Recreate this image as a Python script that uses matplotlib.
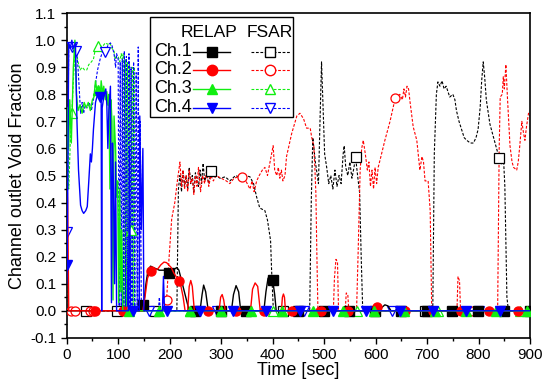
import numpy as np
import matplotlib
matplotlib.use('Agg')
import matplotlib.pyplot as plt
from matplotlib.lines import Line2D
from matplotlib.patches import Rectangle

plt.rcParams['font.family'] = ['Liberation Sans', 'DejaVu Sans']

# ---- data (time [s], void fraction) ----
relap_ch1 = np.array([
    (0, 0), (146, 0), (150, 0.03), (154, 0.10), (158, 0.15), (163, 0.165), (168, 0.16),
    (174, 0.155), (180, 0.15), (186, 0.15), (192, 0.15), (199, 0.14), (205, 0.145),
    (210, 0.155), (214, 0.16), (218, 0.15), (222, 0.12), (226, 0.09), (230, 0.06),
    (234, 0.03), (238, 0), (259, 0), (263, 0.06), (266, 0.095), (270, 0.07), (275, 0),
    (320, 0), (324, 0.06), (329, 0.093), (334, 0.07), (338, 0), (383, 0), (387, 0.07),
    (391, 0.12), (395, 0.13), (400, 0.115), (404, 0.06), (407, 0), (606, 0), (612, 0.012),
    (618, 0.022), (624, 0.018), (630, 0), (900, 0)])
relap_ch2 = np.array([
    (0, 0.52), (2, 0.40), (4, 0), (148, 0), (152, 0.05), (157, 0.12), (162, 0.145),
    (170, 0.15), (177, 0.155), (183, 0.17), (189, 0.18), (194, 0.178), (198, 0.17),
    (203, 0.16), (208, 0.14), (213, 0.125), (218, 0.115), (222, 0.09), (226, 0.053),
    (230, 0), (235, 0), (238, 0.09), (241, 0.112), (244, 0.09), (248, 0), (296, 0),
    (299, 0.05), (302, 0.06), (305, 0.04), (308, 0), (357, 0), (361, 0.08), (366, 0.103),
    (371, 0.09), (376, 0), (417, 0), (419, 0.05), (421, 0.062), (423, 0.05), (425, 0),
    (595, 0), (600, 0.012), (604, 0.016), (608, 0.01), (612, 0), (900, 0)])
relap_ch3 = np.array([
    (0, 0.28), (2, 0.75), (4, 0.60), (6, 0.78), (9, 0.62), (13, 0.90), (16, 1.0),
    (19, 0.80), (22, 0.74), (26, 0.76), (30, 0.73), (34, 0.77), (38, 0.75), (42, 0.77),
    (46, 0.74), (50, 0.78), (53, 0.79), (56, 0.85), (59, 0.81), (62, 0.82), (65, 0.78),
    (67, 0.85), (70, 0.80), (72, 0.83), (75, 0.78), (78, 0.81), (80, 0.76), (82, 0.80),
    (84, 0.45), (86, 0.78), (88, 0.70), (90, 0.04), (92, 0.72), (95, 0.60), (97, 0.42),
    (99, 0.48), (101, 0.03), (103, 0.45), (105, 0.07), (107, 0.30), (109, 0), (900, 0)])
relap_ch4 = np.array([
    (0, 0.10), (1, 0.17), (4, 0.99), (7, 0.97), (10, 1.0), (13, 0.97), (17, 0.99),
    (20, 0.70), (23, 0.52), (27, 0.39), (30, 0.37), (33, 0.36), (37, 0.37), (40, 0.385),
    (43, 0.48), (46, 0.58), (48, 0.55), (50, 0.60), (52, 0.67), (56, 0.77), (60, 0.80),
    (65, 0.79), (67, 0.78), (68, 0), (69, 0.75), (72, 0.79), (76, 0.82), (78, 0.76),
    (80, 0.60), (82, 0.74), (85, 0.83), (87, 0.03), (89, 0.62), (91, 0.45), (93, 0.10),
    (95, 0.55), (97, 0), (120, 0), (122, 0.60), (124, 0), (141, 0), (142, 0.72),
    (145, 0.30), (148, 0.60), (150, 0), (186, 0), (188, 0.127), (190, 0), (900, 0)])

fsar_ch1 = np.array([
    (0, 0), (214, 0), (217, 0.45), (220, 0.50), (223, 0.44), (226, 0.52), (229, 0.46),
    (232, 0.50), (235, 0.45), (238, 0.53), (241, 0.47), (244, 0.50), (247, 0.44),
    (250, 0.51), (253, 0.48), (256, 0.46), (259, 0.52), (262, 0.47), (265, 0.545),
    (268, 0.48), (272, 0.50), (276, 0.47), (281, 0.517), (288, 0.50), (298, 0.49),
    (308, 0.495), (317, 0.48), (328, 0.50), (340, 0.49), (348, 0.50), (356, 0.495),
    (363, 0.47), (369, 0.42), (375, 0.38), (385, 0.37), (390, 0.335), (396, 0.26),
    (398, 0.15), (401, 0.02), (403, 0), (472, 0), (475, 0.40), (478, 0.64), (483, 0.55),
    (489, 0.47), (492, 0.70), (495, 0.92), (498, 0.75), (501, 0.58), (505, 0.53),
    (509, 0.47), (513, 0.50), (517, 0.45), (521, 0.52), (525, 0.46), (529, 0.50),
    (533, 0.47), (537, 0.58), (539, 0.61), (542, 0.53), (546, 0.50), (550, 0.55),
    (554, 0.49), (558, 0.53), (561, 0.57), (565, 0.50), (569, 0.435), (572, 0.20),
    (575, 0), (711, 0), (714, 0.58), (718, 0.80), (721, 0.846), (725, 0.83), (729, 0.85),
    (733, 0.82), (737, 0.83), (744, 0.79), (750, 0.80), (754, 0.78), (757, 0.74),
    (762, 0.70), (767, 0.67), (772, 0.64), (777, 0.63), (784, 0.62), (790, 0.62),
    (795, 0.64), (799, 0.67), (803, 0.75), (806, 0.85), (809, 0.92), (812, 0.86),
    (815, 0.78), (822, 0.69), (832, 0.62), (840, 0.565), (845, 0.54), (848, 0.58),
    (851, 0.46), (855, 0.05), (858, 0), (900, 0)])
fsar_ch2 = np.array([
    (0, 0), (188, 0), (194, 0.04), (199, 0.20), (204, 0.34), (210, 0.40), (215, 0.48),
    (220, 0.55), (223, 0.46), (226, 0.52), (229, 0.45), (232, 0.50), (235, 0.44),
    (238, 0.52), (241, 0.47), (244, 0.49), (247, 0.43), (250, 0.50), (253, 0.46),
    (256, 0.53), (260, 0.44), (264, 0.50), (268, 0.47), (272, 0.52), (276, 0.46),
    (280, 0.50), (285, 0.48), (290, 0.50), (300, 0.49), (310, 0.48), (317, 0.47),
    (325, 0.49), (333, 0.495), (340, 0.495), (348, 0.48), (356, 0.45), (360, 0.48),
    (364, 0.44), (369, 0.48), (374, 0.50), (380, 0.52), (385, 0.53), (390, 0.50),
    (396, 0.56), (401, 0.61), (404, 0.52), (408, 0.50), (411, 0.53), (414, 0.49),
    (417, 0.52), (420, 0.48), (424, 0.50), (427, 0.57), (437, 0.655), (447, 0.72),
    (453, 0.73), (460, 0.71), (466, 0.675), (473, 0.675), (476, 0.64), (480, 0.61),
    (482, 0.53), (484, 0.435), (486, 0.20), (488, 0), (518, 0), (520, 0.12), (523, 0.19),
    (526, 0.18), (528, 0), (541, 0), (543, 0.066), (546, 0.06), (548, 0), (563, 0),
    (566, 0.21), (570, 0.52), (573, 0.60), (576, 0.63), (580, 0.58), (584, 0.52),
    (587, 0.55), (590, 0.46), (593, 0.52), (596, 0.45), (599, 0.53), (602, 0.47),
    (605, 0.53), (609, 0.56), (618, 0.63), (628, 0.70), (638, 0.785), (647, 0.80),
    (652, 0.78), (655, 0.82), (658, 0.79), (661, 0.83), (664, 0.82), (667, 0.77),
    (673, 0.68), (680, 0.63), (686, 0.52), (690, 0.57), (693, 0.55), (696, 0.48),
    (702, 0.48), (706, 0.37), (709, 0), (758, 0), (760, 0.127), (763, 0.11), (765, 0),
    (837, 0), (840, 0.60), (842, 0.79), (846, 0.80), (848, 0.865), (850, 0.82),
    (853, 0.91), (856, 0.79), (861, 0.61), (865, 0.55), (868, 0.53), (874, 0.52),
    (877, 0.55), (880, 0.61), (884, 0.70), (887, 0.66), (890, 0.63), (893, 0.68),
    (897, 0.73), (900, 0.72)])
fsar_ch3 = np.array([
    (0, 0.20), (2, 0.60), (4, 0.45), (7, 0.62), (10, 0.73), (13, 0.85), (16, 0.95),
    (19, 0.96), (22, 0.92), (26, 0.89), (30, 0.90), (35, 0.89), (39, 0.89), (43, 0.91),
    (48, 0.92), (52, 0.93), (56, 0.97), (60, 0.98), (64, 0.985), (68, 0.975), (71, 0.98),
    (75, 0.99), (80, 0.985), (84, 0.99), (88, 0.97), (92, 0.96), (94, 0.93), (97, 0.94),
    (100, 0.94), (103, 0.92), (106, 0.95), (108, 0.93), (110, 0.95), (112, 0), (114, 0.93),
    (116, 0), (118, 0.92), (120, 0), (122, 0.91), (124, 0), (127, 0.90), (129, 0),
    (131, 0.90), (133, 0), (900, 0)])
fsar_ch4 = np.array([
    (0, 0), (1, 0.29), (4, 0.99), (7, 0.99), (10, 0.975), (19, 0.96), (22, 0.90),
    (25, 0.80), (27, 0.73), (30, 0.77), (33, 0.73), (36, 0.76), (40, 0.75), (44, 0.77),
    (48, 0.74), (52, 0.78), (56, 0.84), (60, 0.89), (65, 0.93), (70, 0.96), (75, 0.957),
    (80, 0.98), (85, 0.99), (88, 0.98), (92, 0.95), (95, 0.90), (97, 0.95), (100, 0.93),
    (102, 0), (104, 0.92), (106, 0), (108, 0.93), (110, 0), (112, 0.96), (114, 0),
    (116, 0.94), (118, 0), (121, 0.95), (123, 0), (125, 0.90), (127, 0), (130, 0.92),
    (132, 0), (135, 0.88), (137, 0), (139, 0.975), (141, 0), (143, 0.70), (145, 0),
    (178, 0), (180, 0.05), (182, 0), (900, 0)])

# times where the symbols sit on each curve
relap_ch1_marks = [149, 199, 249, 299, 349, 400, 449, 499, 549, 599, 649, 699, 749, 799, 849, 899]
relap_ch2_marks = [55, 110, 164, 219, 274, 328, 383, 438, 493, 547, 602, 657, 711, 766, 821, 876]
relap_ch3_marks = [61, 120.5, 180, 239.5, 299, 358.5, 418, 477.5, 537, 596.5, 656, 715.5, 775, 834.5, 894]
relap_ch4_marks = [1, 64.7, 129.4, 194, 258.8, 323.5, 388, 453, 517.6, 582, 647, 712, 776, 841]
fsar_ch1_marks = [38, 98, 172, 281, 420, 561, 696, 840]
fsar_ch2_marks = [8, 16, 45, 52, 120, 194, 340, 492, 638, 790]
fsar_ch3_marks = [10, 60, 125, 240, 400, 563, 722, 880]
fsar_ch4_marks = [1, 10, 19, 75, 159, 291, 460, 631, 800]

channels = ['Ch.1', 'Ch.2', 'Ch.3', 'Ch.4']
colors = ['black', '#ff0000', '#10ee10', '#0000ff']
markers = ['s', 'o', '^', 'v']

relap = [relap_ch1, relap_ch2, relap_ch3, relap_ch4]
relap_marks = [relap_ch1_marks, relap_ch2_marks, relap_ch3_marks, relap_ch4_marks]
fsar = [fsar_ch1, fsar_ch2, fsar_ch3, fsar_ch4]
fsar_marks = [fsar_ch1_marks, fsar_ch2_marks, fsar_ch3_marks, fsar_ch4_marks]

fig = plt.figure(figsize=(5.42, 3.87), dpi=100)
ax = fig.add_axes([0.123, 0.127, 0.855, 0.839])

# FSAR first (dashed), then RELAP on top
for d, m_t, c, mk in zip(fsar, fsar_marks, colors, markers):
    ax.plot(d[:, 0], d[:, 1], color=c, lw=0.8, ls=(0, (2.5, 1.5)), zorder=2)
    ax.plot(m_t, np.interp(m_t, d[:, 0], d[:, 1]), ls='none', marker=mk, ms=6.5,
            mfc='white', mec=c, mew=0.9, zorder=3)
for d, m_t, c, mk in zip(relap, relap_marks, colors, markers):
    ax.plot(d[:, 0], d[:, 1], color=c, lw=1.0, zorder=4)
    ax.plot(m_t, np.interp(m_t, d[:, 0], d[:, 1]), ls='none', marker=mk, ms=6.5,
            mfc=c, mec=c, zorder=4)

ax.set_xlim(0, 900)
ax.set_ylim(-0.1, 1.1)
ax.set_xticks(np.arange(0, 901, 100))
ax.set_xticks(np.arange(0, 901, 50), minor=True)
ax.set_yticks(np.round(np.arange(-0.1, 1.11, 0.1), 1))
ax.set_yticks(np.arange(-0.1, 1.11, 0.05), minor=True)
ax.yaxis.set_major_formatter(plt.FuncFormatter(lambda v, p: '%.1f' % v))
ax.tick_params(axis='both', which='major', direction='out', length=4, width=1,
               labelsize=11, top=False, right=False)
ax.tick_params(axis='both', which='minor', direction='out', length=2, width=1,
               top=False, right=False)
for sp in ax.spines.values():
    sp.set_linewidth(1.2)

ax.set_xlabel('Time [sec]', fontsize=13, labelpad=0)
ax.set_ylabel('Channel outlet Void Fraction', fontsize=13, labelpad=3)

# legend box drawn by hand to match the two-column layout
ax.add_patch(Rectangle((0.18, 0.68), 0.308, 0.309, transform=ax.transAxes,
                       facecolor='white', edgecolor='black', lw=1, zorder=10))
ax.text(0.307, 0.939, 'RELAP', transform=ax.transAxes, ha='center', va='center',
        fontsize=12.5, zorder=11)
ax.text(0.439, 0.939, 'FSAR', transform=ax.transAxes, ha='center', va='center',
        fontsize=12.5, zorder=11)
rows_y = [0.881, 0.825, 0.767, 0.708]
for y, lab, c, mk in zip(rows_y, channels, colors, markers):
    ax.text(0.229, y, lab, transform=ax.transAxes, ha='center', va='center',
            fontsize=13, zorder=11)
    ax.add_line(Line2D([0.273, 0.353], [y, y], transform=ax.transAxes, color=c,
                       lw=1.0, zorder=11))
    ax.add_line(Line2D([0.314], [y], transform=ax.transAxes, marker=mk, ms=7.5,
                       mfc=c, mec=c, ls='none', zorder=12))
    ax.add_line(Line2D([0.398, 0.482], [y, y], transform=ax.transAxes, color=c,
                       lw=0.8, ls=(0, (2.5, 1.5)), zorder=11))
    ax.add_line(Line2D([0.439], [y], transform=ax.transAxes, marker=mk, ms=7.5,
                       mfc='white', mec=c, ls='none', zorder=12))

fig.savefig('out.png', dpi=100)
